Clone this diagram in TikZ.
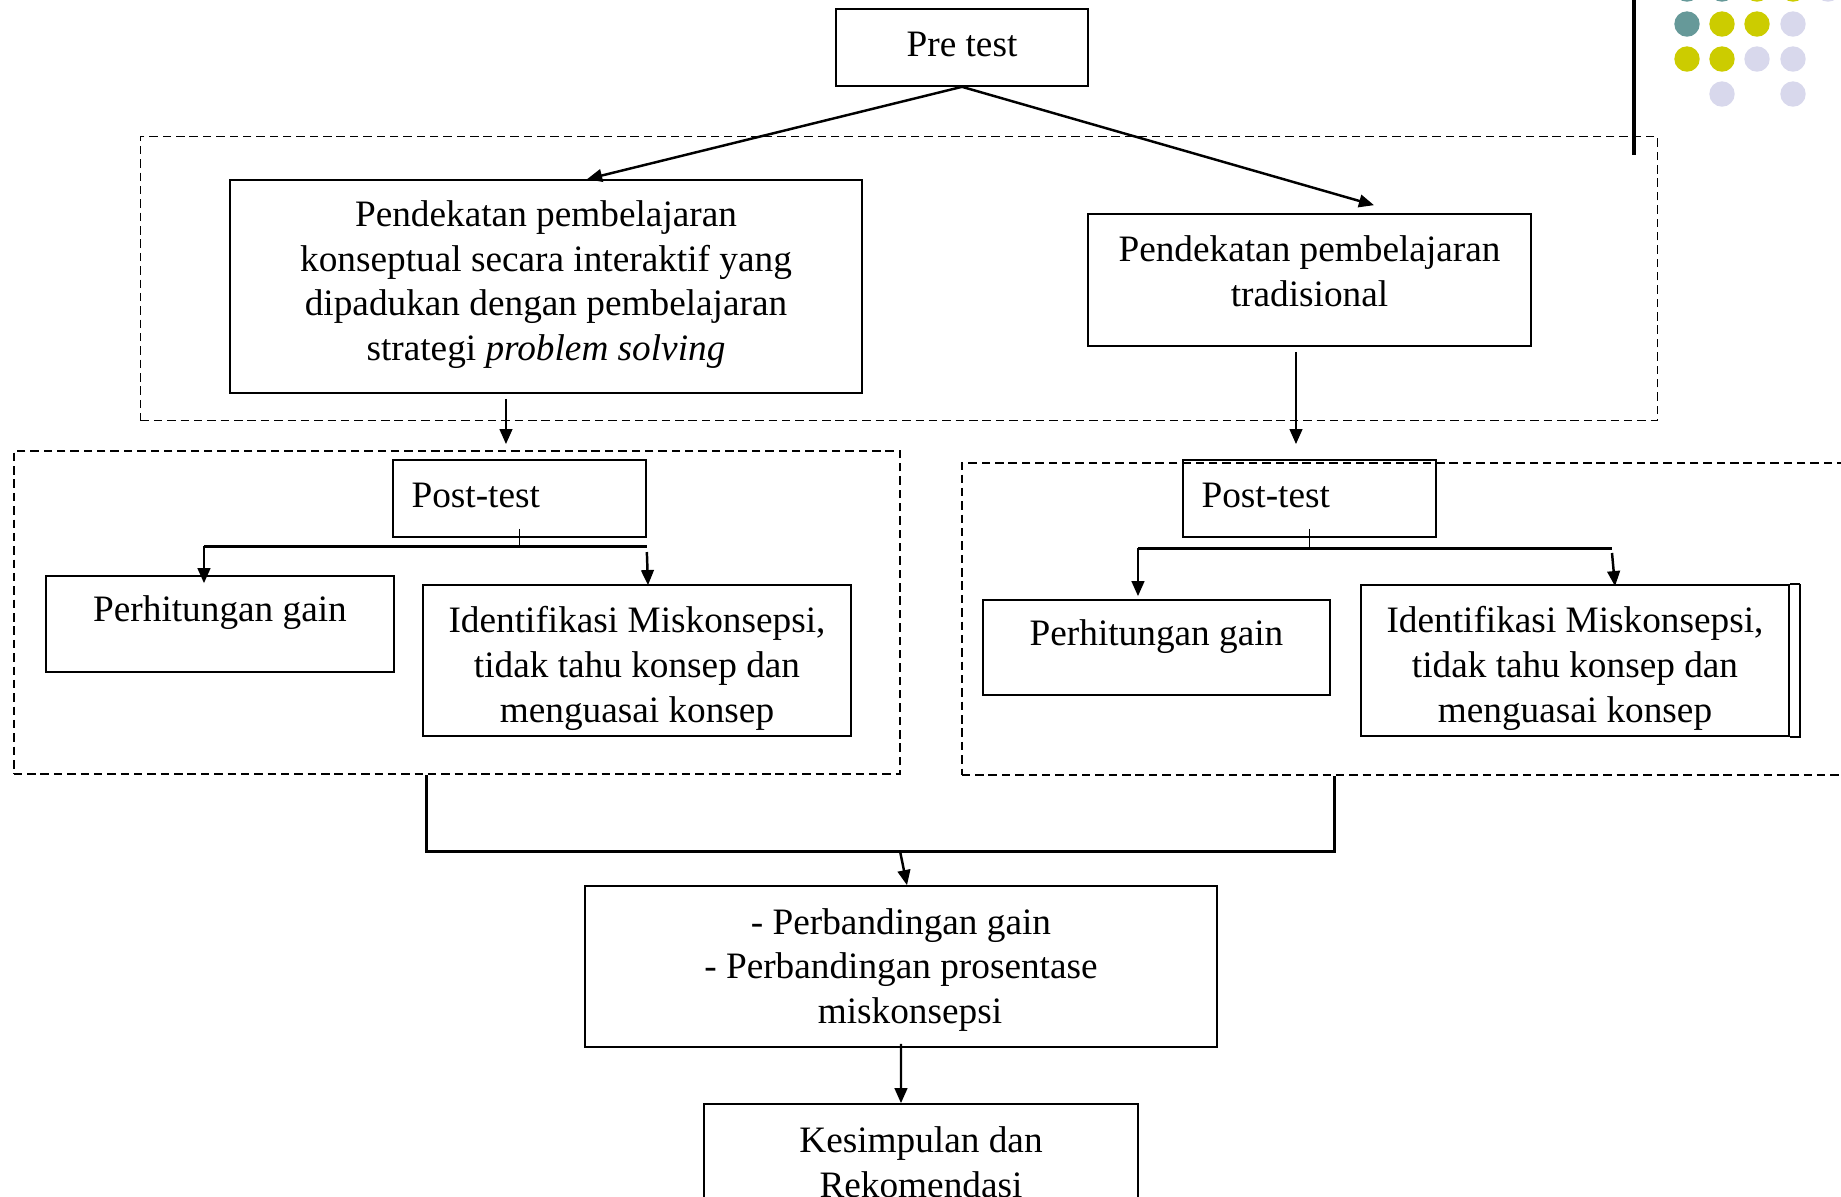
\documentclass[tikz,border=0pt]{standalone}
\usepackage{fontspec}
\setmainfont{Liberation Serif}
\usetikzlibrary{arrows.meta}

\definecolor{dotteal}{RGB}{102,153,153}
\definecolor{dotyellow}{RGB}{204,204,0}
\definecolor{dotlilac}{RGB}{216,216,236}

\begin{document}
\begin{tikzpicture}[x=0.01cm, y=-0.01cm,
        font=\fontsize{10.6}{12.7}\selectfont,
        box/.style={draw, line width=0.45pt, inner sep=0pt, align=center},
        group/.style={draw, line width=0.45pt, dash pattern=on 2.4pt off 1.4pt, inner sep=0pt},
        arr/.style={line width=0.7pt, -{Triangle[length=4.3pt, width=3.6pt]}},
        bar/.style={line width=0.85pt}]
            \useasboundingbox (0,0) rectangle (1841,1196);

            \foreach \x/\y/\c in {1687/-11/dotteal, 1722/-11/dotteal, 1757/-11/dotyellow, 1793/-11/dotyellow, 1828/-11/dotlilac,
                1687/24/dotteal, 1722/24/dotyellow, 1757/24/dotyellow, 1793/24/dotlilac,
                1687/59/dotyellow, 1722/59/dotyellow, 1757/59/dotlilac, 1793/59/dotlilac,
                1722/94/dotlilac, 1793/94/dotlilac}
                \fill[\c] (\x,\y) circle (0.127cm);
            \draw[line width=1.1pt] (1634,0) -- (1634,155);

            \node[group, minimum width=15.16cm, minimum height=2.84cm] (grpT) at (899,278.5) {};
            \node[group, minimum width=8.86cm, minimum height=3.23cm] (grpL) at (457,612.5) {};
            \node[group, minimum width=9.40cm, minimum height=3.12cm] (grpR) at (1432,619) {};

            \node[box, minimum width=2.52cm, minimum height=0.77cm,
                label={[yshift=0.035cm]center:Pre test}] (pre) at (962,47.5) {};
            \node[box, minimum width=6.32cm, minimum height=2.13cm,
                label={[align=center, yshift=0.02cm]center:Pendekatan pembelajaran\\konseptual secara interaktif yang\\dipadukan dengan pembelajaran\\strategi \textit{problem solving}}] (konsep) at (546,286.5) {};
            \node[box, minimum width=4.43cm, minimum height=1.32cm,
                label={[align=center, yshift=0.09cm]center:Pendekatan pembelajaran\\tradisional}] (trad) at (1309.5,280) {};

            \node[box, minimum width=2.53cm, minimum height=0.77cm,
                label={[anchor=west, xshift=0.07cm, yshift=0.035cm]west:Post-test}] (postL) at (519.5,498.5) {};
            \node[box, minimum width=2.53cm, minimum height=0.77cm,
                label={[anchor=west, xshift=0.07cm, yshift=0.035cm]west:Post-test}] (postR) at (1309.5,498.5) {};

            \node[box, minimum width=3.48cm, minimum height=0.96cm,
                label={[anchor=center, yshift=-0.37cm]north:Perhitungan gain}] (gainL) at (220,624) {};
            \node[box, minimum width=4.28cm, minimum height=1.51cm,
                label={[align=center, yshift=-0.08cm]center:Identifikasi Miskonsepsi,\\tidak tahu konsep dan\\menguasai konsep}] (identL) at (637,660.5) {};
            \node[box, minimum width=3.47cm, minimum height=0.95cm,
                label={[anchor=center, yshift=-0.37cm]north:Perhitungan gain}] (gainR) at (1156.5,647.5) {};
            \node[box, minimum width=4.28cm, minimum height=1.51cm,
                label={[align=center, yshift=-0.08cm]center:Identifikasi Miskonsepsi,\\tidak tahu konsep dan\\menguasai konsep}] (identR) at (1575,660.5) {};
            \draw[line width=0.45pt] ([xshift=0.1cm]identR.north east) -- ([xshift=0.1cm]identR.south east)
                -- (identR.south east) (identR.north east) -- ([xshift=0.1cm]identR.north east);

            \node[box, minimum width=6.32cm, minimum height=1.61cm,
                label={[align=center, yshift=-0.035cm]center:- Perbandingan gain\\- Perbandingan prosentase\\\hspace*{0.18cm}miskonsepsi}] (banding) at (901,966.5) {};
            \node[box, minimum width=4.34cm, minimum height=1.13cm,
                label={[align=center, yshift=-0.02cm]center:Kesimpulan dan\\Rekomendasi}] (simpul) at (921,1160.5) {};

            \draw[arr] (pre.south) -- ([xshift=0.41cm]konsep.north);
            \draw[arr] (pre.south) -- ([xshift=0.645cm, yshift=0.08cm]trad.north);
            \draw[arr] ([xshift=-0.4cm, yshift=-0.05cm]konsep.south) -- ([xshift=-0.4cm, yshift=0.06cm]konsep.south |- grpL.north);
            \draw[arr] ([xshift=-0.135cm, yshift=-0.05cm]trad.south) -- ([xshift=-0.135cm, yshift=0.06cm]trad.south |- grpL.north);

            \coordinate (forkL) at (520,546);
            \draw[line width=0.45pt] ([yshift=0.09cm]postL.south) -- (postL.south |- forkL);
            \draw[bar] ([xshift=-0.16cm]gainL.north |- forkL) -- (postL.east |- forkL);
            \draw[arr] ([xshift=-0.16cm]gainL.north |- forkL) -- ([xshift=-0.16cm, yshift=-0.08cm]gainL.north);
            \draw[arr] ([yshift=-0.06cm]postL.east |- forkL) -- ([xshift=0.11cm, yshift=-0.01cm]identL.north);

            \coordinate (forkR) at (1310,548);
            \draw[line width=0.45pt] ([yshift=0.09cm]postR.south) -- (postR.south |- forkR);
            \draw[bar] ([xshift=-0.185cm]gainR.north |- forkR) -- ([xshift=0.37cm]identR.north |- forkR);
            \draw[arr] ([xshift=-0.185cm]gainR.north |- forkR) -- ([xshift=-0.185cm, yshift=0.03cm]gainR.north);
            \draw[arr] ([xshift=0.37cm, yshift=-0.05cm]identR.north |- forkR) -- ([xshift=0.4cm, yshift=-0.02cm]identR.north);

            \coordinate (joinM) at (900,851);
            \draw[bar] ([xshift=-0.3cm]grpL.south) |- (joinM) -| ([xshift=-0.97cm]grpR.south);
            \draw[arr] (joinM) -- ([xshift=0.06cm]banding.north);
            \draw[arr] ([yshift=0.04cm]banding.south) -- ([xshift=-0.2cm]simpul.north);
        \end{tikzpicture}
\end{document}
